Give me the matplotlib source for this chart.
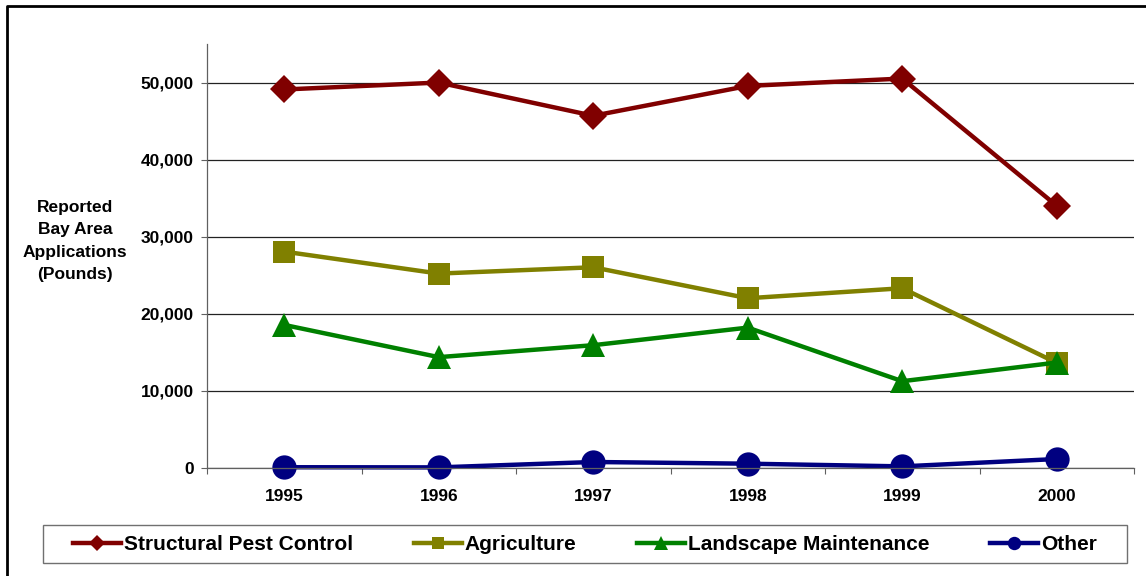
import matplotlib
matplotlib.use("Agg")
import matplotlib.pyplot as plt
from matplotlib.lines import Line2D
from matplotlib.patches import Rectangle
from matplotlib.ticker import FixedLocator, FuncFormatter

# Reported Bay Area pesticide applications (pounds) by use category
years = ["1995", "1996", "1997", "1998", "1999", "2000"]
structural = [49100, 50000, 45690, 49560, 50520, 34010]
agriculture = [28070, 25220, 26040, 22020, 23320, 13640]
landscape = [18560, 14380, 15930, 18210, 11260, 13680]
other = [100, 80, 780, 560, 210, 1165]

series_names = ["Structural Pest Control", "Agriculture", "Landscape Maintenance", "Other"]
series_values = [structural, agriculture, landscape, other]
series_colors = ["#800000", "#808000", "#008000", "#000080"]
series_markers = ["D", "s", "^", "o"]
marker_sizes = [14.5, 15.5, 17.5, 17.5]

y_ticks = [0, 10000, 20000, 30000, 40000, 50000]

plt.rcParams["font.family"] = ["Liberation Sans", "DejaVu Sans"]
plt.rcParams["font.weight"] = "bold"

W, H = 1146, 576
fig = plt.figure(figsize=(W / 100, H / 100), dpi=100)
ax = fig.add_axes([207 / W, 1 - 468 / H, (1134 - 207) / W, (468 - 44) / H])

x = list(range(len(years)))
for name, vals, col, mk, ms in zip(series_names, series_values, series_colors,
                                   series_markers, marker_sizes):
    ax.plot(x, vals, color=col, lw=3.2, marker=mk, ms=ms,
            markerfacecolor=col, markeredgecolor=col, markeredgewidth=0,
            label=name, solid_joinstyle="miter", clip_on=False)

ax.set_xlim(-0.5, len(years) - 0.5)
ax.set_ylim(0, 55000)

ax.set_xticks(x)
ax.set_xticklabels(years)
ax.xaxis.set_minor_locator(FixedLocator([i - 0.5 for i in range(len(years) + 1)]))
ax.tick_params(axis="x", which="major", length=0, pad=15, labelsize=12.5)
ax.tick_params(axis="x", which="minor", length=4, width=0.8, color="#606060",
               direction="out")

ax.set_yticks(y_ticks)
ax.yaxis.set_major_formatter(FuncFormatter(lambda v, p: f"{int(v):,}"))
ax.tick_params(axis="y", length=4, width=0.8, color="#606060", direction="out",
               pad=5.5, labelsize=12.5)

ax.grid(axis="y", color="#222222", lw=0.9)
ax.set_axisbelow(True)
for side in ("top", "right"):
    ax.spines[side].set_visible(False)
for side in ("left", "bottom"):
    ax.spines[side].set_color("#606060")
    ax.spines[side].set_linewidth(0.9)

# Axis title to the left of the tick labels
fig.text(75 / W, 1 - 241 / H, "Reported\nBay Area\nApplications\n(Pounds)",
         ha="center", va="center", fontsize=12.5, fontweight="bold",
         linespacing=1.6)

# Legend inside its own box along the bottom
lx0, lx1, ly0, ly1 = 43, 1127, 525, 563
fig.patches.append(Rectangle((lx0 / W, 1 - ly1 / H), (lx1 - lx0) / W, (ly1 - ly0) / H,
                             transform=fig.transFigure, fill=False,
                             edgecolor="#707070", lw=1.0))
handles, labels = ax.get_legend_handles_labels()
fig.legend(handles, labels, loc="center", ncol=4,
           bbox_to_anchor=((lx0 + lx1) / 2 / W, 1 - (ly0 + ly1 + 2) / 2 / H),
           frameon=False, prop={"size": 15, "weight": "bold"},
           handlelength=2.3, handletextpad=0.15, columnspacing=2.9,
           markerscale=0.55)

# Outer frame: left and top edges
fig.add_artist(Line2D([7 / W, 7 / W, 1.0], [0.0, 1 - 5.5 / H, 1 - 5.5 / H],
                      transform=fig.transFigure, color="black", lw=2.0))

fig.savefig("out.png", dpi=100)
